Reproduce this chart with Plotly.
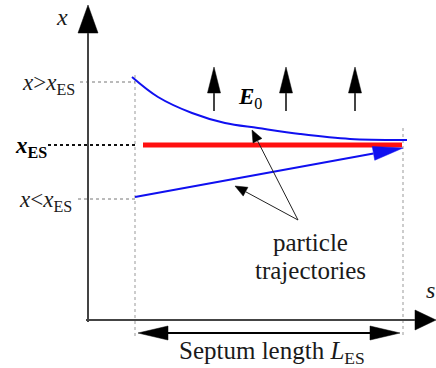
import numpy as np
import plotly.graph_objects as go

W, H = 436, 368

# ---- diagram data (diagram units: s to the right, x downward as drawn) ----
upper_s = [132, 158, 192, 225, 258, 300, 350, 407]
upper_x = [77, 97, 113, 123, 128, 134, 139, 140]
lower_s = [135, 403]
lower_x = [197, 148]
ref_s = [143, 402]
ref_x = [145, 145]
efield_s = [214, 286, 355]
efield_x_tail = 111
efield_x_tip = 67
label_origin = (298, 220)
label_tips = [(252, 130), (235, 186)]
axis_origin = (88, 320)
axis_x_tip = 5
axis_s_tip = 436
septum_start, septum_end = 135, 403
septum_arrow = (138, 400, 333)
level_x = {"above": 82, "es": 145, "below": 199}

FONT = "'Liberation Serif', 'Times New Roman', 'DejaVu Serif', serif"
BLUE = "#1010f0"

fig = go.Figure()


def line(xs, ys, color="black", width=1, dash=None, shape="linear"):
    fig.add_trace(go.Scatter(x=xs, y=ys, mode="lines", hoverinfo="skip",
                             line=dict(color=color, width=width, dash=dash, shape=shape)))


def head(tip, frm, length, width, color="black"):
    tx, ty = tip
    dx, dy = tx - frm[0], ty - frm[1]
    n = np.hypot(dx, dy)
    ux, uy = dx / n, dy / n
    bx, by = tx - ux * length, ty - uy * length
    px, py = -uy * width / 2, ux * width / 2
    fig.add_trace(go.Scatter(x=[tx, bx + px, bx - px, tx], y=[ty, by + py, by - py, ty],
                             mode="lines", fill="toself", fillcolor=color,
                             line=dict(color=color, width=0.5), hoverinfo="skip"))
    return bx, by


# dotted guides
line([septum_start, septum_start], [75, 337], color="#999", width=1, dash="dot")
line([septum_end, septum_end], [128, 335], color="#999", width=1, dash="dot")
line([80, septum_start], [level_x["above"]] * 2, color="#777", width=1, dash="dot")
line([78, septum_start], [level_x["below"]] * 2, color="#777", width=1, dash="dot")
line([48, septum_start], [level_x["es"]] * 2, color="#111", width=2, dash="dot")

# axes
ox, oy = axis_origin
bx, by = head((ox, axis_x_tip), (ox, oy), 28, 20)
line([ox, ox], [oy + 2, by], color="#444", width=2)
bx, by = head((axis_s_tip, oy), (ox, oy), 21, 20)
line([ox - 2, bx], [oy, oy], color="#444", width=2)

# reference orbit (red)
line(ref_s, ref_x, color="#ff1010", width=5)

# upper trajectory
line(upper_s, upper_x, color=BLUE, width=2, shape="spline")

# lower trajectory with arrow
bx, by = head((lower_s[1], lower_x[1]), (lower_s[0], lower_x[0]), 30, 14, color=BLUE)
line([lower_s[0], bx], [lower_x[0], by], color=BLUE, width=2)

# electric field arrows
for s in efield_s:
    bx, by = head((s, efield_x_tip), (s, efield_x_tail), 26, 13)
    line([s, s], [efield_x_tail, by], color="#444", width=2)

# label arrows
for tip in label_tips:
    bx, by = head(tip, label_origin, 12, 10)
    line([label_origin[0], bx], [label_origin[1], by], color="#222", width=1)

# septum length double arrow
sa, sb, sy = septum_arrow
b1 = head((sa, sy), (sb, sy), 30, 14)
b2 = head((sb, sy), (sa, sy), 30, 14)
line([b1[0], b2[0]], [sy, sy], color="black", width=2)


def text(x, y, t, size=23, xanchor="center", color="#1a1a1a"):
    fig.add_annotation(x=x, y=y, text=t, showarrow=False, xanchor=xanchor, yanchor="middle",
                       font=dict(family=FONT, size=size, color=color))


text(62, 17, "<i>x</i>", size=24)
text(430, 290, "<i>s</i>", size=24)
text(77, 84, "<i>x</i>&gt;<i>x</i><sub>ES</sub>", size=23, xanchor="right")
text(49, 147, "<b><i>x</i><sub>ES</sub></b>", size=23, xanchor="right", color="#000")
text(74, 201, "<i>x</i>&lt;<i>x</i><sub>ES</sub>", size=23, xanchor="right")
text(250, 98, "<b><i>E</i></b><sub>0</sub>", size=23, color="#000")
text(310, 242, "particle", size=25)
text(310, 270, "trajectories", size=25)
text(272, 352, "Septum length <i>L</i><sub>ES</sub>", size=25)

fig.update_layout(
    width=W, height=H, margin=dict(l=0, r=0, t=0, b=0),
    paper_bgcolor="white", plot_bgcolor="white", showlegend=False,
    font=dict(family=FONT),
    xaxis=dict(range=[0, W], visible=False, fixedrange=True),
    yaxis=dict(range=[H, 0], visible=False, fixedrange=True),
)
fig.write_html("out.html", config=dict(displayModeBar=False),
               post_script="document.body.style.margin='0';document.body.style.overflow='hidden';")
